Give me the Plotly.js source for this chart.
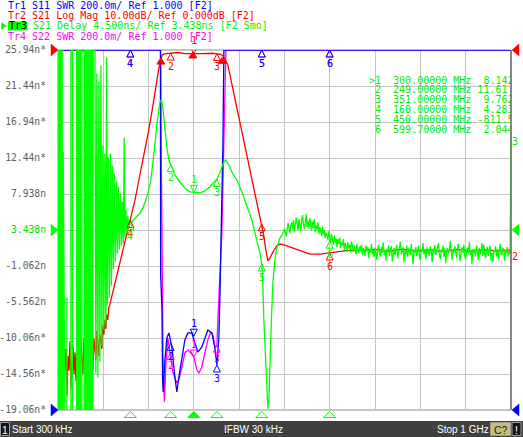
<!DOCTYPE html>
<html><head><meta charset="utf-8">
<script src="https://cdn.plot.ly/plotly-3.0.1.min.js"></script>
<style>html,body{margin:0;padding:0;background:#fff;overflow:hidden}</style>
</head><body><div id="chart" style="width:523px;height:437px"></div>
<script>
// ---------------- DATA ----------------
// Tr1 S11 SWR  [MHz, SWR]
const tr1Pts = [[0.3,3.0],[226.3,3.0],[226.9,1.75],[229.8,1.55],[231.0,1.17],[232.4,1.10],[236.2,1.278],[240.6,1.40],[245,1.428],[251.6,1.35],[258.2,1.183],[262.6,1.10],[267,1.183],[273.7,1.294],[280.3,1.389],[286.9,1.428],[295.7,1.428],[302.4,1.372],[309,1.322],[317.8,1.35],[324.4,1.40],[331,1.444],[339.9,1.428],[346.5,1.344],[350.9,1.25],[355.3,1.40],[357.5,1.611],[359.7,1.9],[362,2.194],[364.2,2.472],[366.4,3.0],[1000,3.0]];
// Tr4 S22 SWR  [MHz, SWR]
const tr4Pts = [[0.3,3.0],[226.9,3.0],[228.6,2.3],[232,1.3],[235,1.044],[238.4,1.25],[242.8,1.40],[247.2,1.317],[253.8,1.211],[262.6,1.15],[267,1.167],[273.7,1.239],[280.3,1.317],[286.9,1.333],[293.5,1.317],[300.2,1.294],[306.8,1.222],[311.2,1.206],[317.8,1.239],[324.4,1.317],[331,1.389],[337.7,1.433],[342.1,1.417],[346.5,1.35],[350.9,1.36],[353.1,1.5],[357.5,1.733],[362,1.989],[366.4,2.5],[369.7,2.789],[370.8,3.0],[1000,3.0]];
// Tr2 S21 Log Mag [MHz, dB]
const tr2Pts = [[0.3,-84],[2.5,-91],[4.7,-82],[6.9,-95],[9.1,-86],[11.3,-80],[13.5,-93],[15.7,-88],[17.9,-83],[20.1,-96],[22.3,-85],[24.5,-89],[26.7,-81],[28.9,-94],[31.1,-87],[33.3,-82],[35.5,-90],[37.7,-84],[39.9,-92],[42.1,-79],[44.3,-88],[46.5,-85],[48.7,-93],[50.9,-81],[53.1,-86],[55.3,-90],[57.5,-80],[59.7,-87],[61.9,-83],[64.1,-91],[66.3,-79],[68.5,-85],[70.7,-88],[72.9,-78],[75.1,-84],[77.3,-89],[79.5,-80],[81.7,-83],[83.9,-86],[86.1,-78],[88.3,-82],[90.5,-85],[92.7,-79],[94.9,-81],[97.1,-83],
[99.3,-76.5],[101.5,-79],[103.7,-75],[106,-77.5],[108,-73.5],[110,-75],[112.6,-71.5],[114.8,-70.8],[117,-69.5],[121.4,-67.2],[126,-64.5],[132.4,-61.7],[136.5,-59.5],[141.2,-56.9],[146.5,-54],[152.3,-51.4],[157.5,-48.8],[163.3,-45.8],[170,-41.8],[176.6,-37.5],[184,-33],[192,-28.3],[200,-22.6],[207.5,-17.2],[213,-12.5],[218.5,-7.8],[223,-5.0],[227.3,-2.8],[230,-1.5],[234,-1.1],[240,-1.0],[249,-0.85],[258,-0.8],[265,-0.7],[280,-1.0],[300,-1.1],[320,-1.0],[340,-0.9],[355,-1.0],[360,-1.2],[364,-1.6],[368.6,-2.5],[375.2,-4.2],[384,-9.4],[393,-14.7],[401.7,-19.7],[410.6,-25],[419.4,-30.3],[428.2,-35.3],[437,-40.6],[445.8,-45.8],[450,-48.3],[454.6,-51.7],[459,-55.6],[463.5,-58.6],[467.9,-57.8],[474.5,-56.1],[483.3,-54.4],[489.9,-53.9],[501,-54.2],[518.7,-55],[534,-55.8],[556,-56.7],[578,-56.7],[600,-56.4],[633,-55.8],[667,-55.6],[700,-55.4],[730,-55.9],[760,-55.3],[790,-55.8],[820,-55.5],[850,-56.0],[880,-55.4],[910,-55.9],[940,-55.5],[970,-55.8],[1000,-55.6]];
// Tr3 S21 Delay [MHz, ns] up to 500 MHz (off-scale values are clipped by the grid)
const tr3Pts = [[0.3,60],[0.7,-60],[3.3,-60],[3.4,60],[5.5,60],[5.6,-60],[7.7,-60],[7.8,60],[9.5,60],[9.6,-60],[11.7,-60],[11.8,13.2],[11.9,-60],[19.9,-60],[20.0,-5],[20.1,-60],[28.7,-60],[28.8,60],[32.0,60],[32.1,-60],[41.3,-60],[41.4,60],[44.1,60],[44.2,-60],[47.0,-60],[47.1,60],[49.7,60],[49.8,-60],[53.0,-60],[53.1,60],[58.0,60],[58.1,-60],[60.7,-60],[60.8,60],[63.6,60],[63.7,-60],[66.2,-60],[66.3,60],[69.1,60],[69.2,-60],[71.7,-60],[71.8,60],[74.6,60],[74.7,-60],[77.2,-60],[77.3,60],[80.1,60],
[81.7,24.5],[83.9,-14.5],[86.1,23.0],[88.3,-15.0],[90.5,22.0],[92.7,-13.0],[94.9,24.0],[97.1,-11.0],[99.3,14.0],[101.5,-9.0],[103.7,13.0],[105.9,-8.5],[107.7,25.0],[109.2,-6.0],[111.4,12.5],[113.7,-5.0],[115.9,13.0],[118.1,-3.5],[120.3,11.5],[122.5,-1.5],[124.7,10.5],[126.9,-0.5],[129.1,9.5],[131.3,0.5],[133.5,8.8],[135.7,1.0],[137.9,8.0],[140.2,1.5],[142.4,7.0],[144.6,1.8],[146.3,15.0],[147.9,2.5],[150.1,6.0],[152.3,3.0],[154.5,5.2],[156.7,3.8],
[160,4.283],[165,4.6],[170,4.94],[176,5.3],[181,5.56],[187,6.1],[192,6.82],[198.6,7.94],[205.3,9.69],[209.7,11.56],[214.1,14.07],[218.5,16.57],[221.8,18.44],[225.1,19.44],[228.9,19.69],[231.7,18.69],[236.2,16.19],[240.6,13.69],[245,12.19],[249,11.61],[258.2,10.32],[269.3,9.44],[280.3,8.69],[291.3,8.19],[300,8.142],[313.4,8.07],[324.4,8.32],[335.4,8.82],[344.3,9.44],[351,9.762],[359.7,10.94],[366.4,11.94],[370.8,12.19],[377.4,11.56],[386.2,10.44],[395,9.69],[406.1,8.19],[417.1,6.57],[428.2,4.69],[439.2,2.1],[445.8,0.6],[450,-0.8115],[452.4,-3.44],[454.6,-7.81],[457.9,-12.19],[461.3,-15.94],[463.5,-18.9],[465.7,-17.81],[467.9,-12.44],[471.2,-7.81],[474.5,-3.19],[478.9,-0.31],[483.3,1.2],[489.9,2.4],[496.6,3.0]];
// Tr3 from 500 MHz to 1 GHz, sweep points every 2 MHz [ns]
const tr3TailStartMHz = 500, tr3TailStepMHz = 2;
const tr3TailVals = [
3.6,3.1,2.6,3.5,4.3,3.8,3.0,3.9,4.4,3.6,
4.7,3.2,3.9,5.0,4.1,3.4,4.8,4.0,3.3,4.6,
5.3,4.2,3.5,4.4,5.4,3.8,4.6,3.6,4.9,4.0,
3.4,4.5,3.7,4.8,3.2,4.0,3.5,4.4,2.9,3.8,
3.3,2.7,3.9,2.9,3.4,2.4,3.1,2.8,2.2,3.3,
2.5,1.8,2.9,2.2,1.6,2.7,1.9,2.4,1.3,2.3,
1.7,2.5,1.2,1.9,1.5,2.3,0.9,1.8,1.4,0.8,
1.9,1.1,1.6,0.6,2.0,1.3,0.7,1.5,1.0,0.4,
1.7,1.1,0.5,1.4,0.8,1.6,0.3,1.2,0.9,0.2,
1.5,0.8,1.3,-0.1,1.1,0.6,1.7,0.4,0.9,0.0,
1.2,0.7,-0.3,1.0,1.6,0.5,0.1,1.3,0.6,1.9,
0.3,0.9,-0.4,1.1,0.6,1.5,0.2,1.0,1.4,-0.5,
0.8,1.2,0.3,0.9,1.6,-0.1,0.6,1.1,2.0,0.4,
0.7,1.3,-0.6,0.9,0.4,1.5,0.1,1.2,0.8,0.3,
1.7,0.5,-0.8,1.0,0.6,1.3,0.2,0.9,1.5,0.0,
-0.3,1.1,0.7,1.8,0.4,0.9,-0.2,1.3,0.5,1.0,
0.2,1.4,0.8,-0.6,1.1,0.5,1.6,0.3,0.9,1.2,
1.8,0.4,-0.2,1.0,0.7,1.5,0.1,1.2,-0.7,0.8,
1.2,0.5,0.9,2.1,0.3,-0.3,1.0,0.6,1.4,0.2,
0.0,1.1,1.7,0.4,-0.5,0.8,1.3,0.6,1.6,0.2,
-0.2,0.9,1.2,0.5,1.9,0.3,0.8,-0.8,1.1,0.6,
1.0,0.1,1.5,0.7,-0.3,1.2,0.4,0.9,1.8,0.2,
1.6,0.5,-0.1,1.0,1.3,0.2,0.8,1.5,-0.4,0.6,
-0.6,0.9,0.7,1.4,0.1,1.1,-0.2,0.8,1.7,0.4,
0.3,1.2,0.9,-0.4,1.0,0.6,1.3,0.1,0.8,0.5,
14.94];

// Markers
const markerNames = ['1','2','3','4','5','6'];
const markerFreqs = [300, 249, 351, 160, 450, 599.7];
const tr3Marker = [8.142, 11.61, 9.762, 4.283, -0.8115, 2.044];
const tr2Marker = [-1.1, -0.85, -1.0, -47.4, -48.3, -56.4];
const tr1Marker = [1.41, 1.37, 1.25, 3.0, 3.0, 3.0];
const tr4Marker = [1.294, 1.32, 1.36, 3.0, 3.0, 3.0];
// bandwidth search markers on Tr2
const bwFreqs = [227.3, 298, 362.7];
const bwVals = [-2.8, -1.1, -2.6];

// axis labels (Tr3 scale)
const delayTickVals = [-19.062,-14.562,-10.062,-5.562,-1.062,3.438,7.938,12.438,16.938,21.438,25.938];
const delayTickText = ['-19.06n*','-14.56n*','-10.06n*','-5.562n','-1.062n','<span style="color:#00dd00">3.438n</span>','7.938n','12.44n*','16.94n*','21.44n*','25.94n*'];
const headerLines = ['Tr1 S11 SWR 200.0m/ Ref 1.000 [F2]','Tr2 S21 Log Mag 10.00dB/ Ref 0.000dB [F2]','S21 Delay 4.500ns/ Ref 3.438ns [F2 Smo]','Tr4 S22 SWR 200.0m/ Ref 1.000 [F2]'];
const statusTexts = ['Start 300 kHz','IFBW 30 kHz','Stop 1 GHz'];

// ---------------- LAYOUT HELPERS ----------------
const W=523,H=437,L=58,R=12,T=50,B=16;
const PW=W-L-R, PH=H-T-B;
const PX = p => (p-L)/PW;
const PY = p => (H-B-p)/PH;
const MB = (H-B-410)/PH;
const MONO = 'DejaVu Sans Mono';
const SANS = 'Liberation Sans';
const C1='#0000ff', C2='#ff0000', C3='#00ee00', C3L='#00ff00', C4='#ff00ff';
const X_RANGE = [0.3, 1000];

const xs = p => p.map(d=>d[0]);
const ys = p => p.map(d=>d[1]);
const tr3X = xs(tr3Pts).concat(tr3TailVals.map((v,i)=>tr3TailStartMHz + i*tr3TailStepMHz));
const tr3Y = ys(tr3Pts).concat(tr3TailVals);

const shapes = [];
const annotations = [];

function txt(px, py, text, color, size, family, anchor){
  annotations.push({xref:'paper', yref:'paper', x:PX(px), y:PY(py), xanchor:anchor||'left', yanchor:'middle',
    text:text, showarrow:false, borderwidth:0, borderpad:0, font:{family:family||MONO, size:size||10, color:color}});
}
function rectPx(x0,y0,x1,y1,fill,line,layer){
  shapes.push({type:'rect', xref:'paper', yref:'paper', x0:PX(x0), x1:PX(x1), y0:PY(y1), y1:PY(y0),
    fillcolor:fill, line:line||{width:0}, layer:layer||'above'});
}
function triPaper(px, py, path, color){
  shapes.push({type:'path', xref:'paper', yref:'paper', xsizemode:'pixel', ysizemode:'pixel',
    xanchor:PX(px), yanchor:PY(py), path:path, fillcolor:color, line:{color:color, width:0.5}, layer:'above'});
}

// plot frame
shapes.push({type:'rect', xref:'paper', yref:'paper', x0:0, x1:1, y0:MB, y1:1, line:{color:'#8a8a8a', width:1}, fillcolor:'rgba(0,0,0,0)', layer:'below'});
shapes.push({type:'line', xref:'paper', yref:'paper', x0:1, x1:1, y0:MB, y1:1, line:{color:'#707070', width:1.5}, layer:'above'});

// reference position triangles (left & right)
triPaper(58, 50, 'M0,0L-7,6L-7,-6Z', C2);
triPaper(58, 230, 'M0,0L-7,6L-7,-6Z', C3L);
triPaper(58, 410, 'M0,0L-7,6L-7,-6Z', C1);
triPaper(511, 50, 'M1,0L8,6L8,-6Z', C2);
triPaper(511, 230, 'M1,0L8,6L8,-6Z', C3L);
triPaper(511, 410, 'M1,0L8,6L8,-6Z', C1);

// header
txt(8, 6, headerLines[0], C1);
txt(8, 16, headerLines[1], C2);
rectPx(8, 21.5, 27.5, 30.5, C3L);
triPaper(1.5, 26, 'M0,3.5L0,-3.5L5,0Z', C3L);
txt(8.5, 26, 'Tr3', '#000000');
txt(32.5, 26, headerLines[2], C3);
txt(8, 36, headerLines[3], C4);

// markers
function addMarkers(vals, yref, color){
  markerFreqs.forEach((f,i)=>{
    const active = i===0;
    shapes.push({type:'path', xref:'x', yref:yref, xsizemode:'pixel', ysizemode:'pixel', xanchor:f, yanchor:vals[i],
      path: active ? 'M0,0L-3.5,7L3.5,7Z' : 'M0,0L-3.5,-7L3.5,-7Z',
      line:{color:color, width:1}, fillcolor:'rgba(0,0,0,0)', layer:'above'});
    annotations.push({xref:'x', yref:yref, x:f, y:vals[i], text:markerNames[i], showarrow:false,
      yshift: active ? 13 : -13, borderwidth:0, borderpad:0, font:{family:MONO, size:10, color:color}});
  });
}
addMarkers(tr4Marker, 'y2', C4);
addMarkers(tr1Marker, 'y2', C1);
addMarkers(tr2Marker, 'y3', C2);
bwFreqs.forEach((f,i)=>{
  shapes.push({type:'path', xref:'x', yref:'y3', xsizemode:'pixel', ysizemode:'pixel', xanchor:f, yanchor:bwVals[i],
    path:'M0,2L-4,-4L4,-4Z', line:{color:C2, width:1}, fillcolor:C2, layer:'above'});
});
addMarkers(tr3Marker, 'y4', C3L);

// stimulus markers strip below grid
markerFreqs.forEach((f,i)=>{
  shapes.push({type:'path', xref:'x', yref:'paper', xsizemode:'pixel', ysizemode:'pixel', xanchor:f, yanchor:PY(415),
    path:'M-6,-2.5L6,-2.5L0,3.5Z', line:{color:C3L, width:1}, fillcolor: i===0 ? C3L : 'rgba(0,0,0,0)', layer:'above'});
});

// trace end labels
annotations.push({xref:'x', yref:'y3', x:1000, y:tr2Pts[tr2Pts.length-1][1], xanchor:'left', xshift:1, yshift:-6, text:'2', showarrow:false, borderwidth:0, borderpad:0, font:{family:MONO,size:10,color:C2}});
annotations.push({xref:'x', yref:'y4', x:1000, y:tr3Y[tr3Y.length-1], xanchor:'left', xshift:1, yshift:-4, text:'3', showarrow:false, borderwidth:0, borderpad:0, font:{family:MONO,size:10,color:C3}});

// status bar
rectPx(0, 421, 523, 437, '#404040');
rectPx(0.5, 422.5, 9.5, 435.5, '#161616', {color:'#9a9a9a', width:1});
txt(5, 429.5, '1', '#ffffff', 10.5, SANS, 'center');
txt(12, 429.5, statusTexts[0], '#ffffff', 10, SANS);
txt(224, 429.5, statusTexts[1], '#ffffff', 10, SANS);
txt(437, 429.5, statusTexts[2], '#ffffff', 10, SANS);
rectPx(490.5, 422.5, 510.5, 435.5, '#c8c070', {color:'#9a9a9a', width:1});
txt(500.5, 429.5, 'C?', '#202020', 10.5, SANS, 'center');
rectPx(512, 422.5, 521, 435.5, '#161616', {color:'#9a9a9a', width:1});
txt(516.5, 429.5, '!', '#ffffff', 10.5, SANS, 'center');

// marker table (clipped by grid)
const tableRowPx = [81, 90.8, 100.6, 110.4, 120.2, 130];
const tableText = markerFreqs.map((f,i)=>{
  const v = tr3Marker[i];
  const val = Math.abs(v) < 1 ? (v*1000).toPrecision(4)+' ps' : v.toPrecision(4)+' ns';
  const pad = (v >= 0 && v < 10) ? '  ' : ' ';
  return ((i===0?'>':' ') + markerNames[i] + '  ' + f.toFixed(5) + ' MHz' + pad + val).replace(/ /g,'\u00a0');
});
const tableX = X_RANGE[0] + PX(369)*(X_RANGE[1]-X_RANGE[0]);

const traces = [
  {x:[null], y:[null], xaxis:'x', yaxis:'y', mode:'lines', hoverinfo:'skip'},
  {x:xs(tr4Pts), y:ys(tr4Pts), xaxis:'x', yaxis:'y2', mode:'lines', line:{color:C4, width:1.3}, hoverinfo:'skip'},
  {x:xs(tr1Pts), y:ys(tr1Pts), xaxis:'x', yaxis:'y2', mode:'lines', line:{color:C1, width:1.3}, hoverinfo:'skip'},
  {x:xs(tr2Pts), y:ys(tr2Pts), xaxis:'x', yaxis:'y3', mode:'lines', line:{color:C2, width:1.3}, hoverinfo:'skip'},
  {x:tr3X, y:tr3Y, xaxis:'x', yaxis:'y4', mode:'lines', line:{color:C3L, width:1.3}, hoverinfo:'skip'},
  {x:tableRowPx.map(()=>tableX), y:tableRowPx.map(p=>(410-p)/360), xaxis:'x', yaxis:'y5', mode:'text',
   text:tableText, textposition:'middle right', cliponaxis:true, textfont:{family:MONO, size:10, color:C3}, hoverinfo:'skip'}
];

const gridC = '#c4c4c4';
const layout = {
  width:W, height:H, margin:{l:L, r:R, t:T, b:B, pad:0},
  paper_bgcolor:'#ffffff', plot_bgcolor:'rgba(0,0,0,0)', showlegend:false, hovermode:false,
  xaxis:{range:X_RANGE, showticklabels:false, ticks:'', showgrid:true, gridcolor:gridC, gridwidth:1,
         tick0:0.3, dtick:99.97, zeroline:false, showline:false, fixedrange:true},
  yaxis:{domain:[MB,1], range:[-19.062,25.938], tickmode:'array', tickvals:delayTickVals, ticktext:delayTickText,
         showgrid:true, gridcolor:gridC, gridwidth:1, zeroline:false, showline:false, ticks:'',
         showticklabels:true, tickfont:{family:MONO, size:9.7, color:'#606060'}, ticklabelstandoff:11, fixedrange:true},
  yaxis2:{overlaying:'y', range:[1,3], showgrid:false, showticklabels:false, zeroline:false, ticks:'', fixedrange:true},
  yaxis3:{overlaying:'y', range:[-100,0], showgrid:false, showticklabels:false, zeroline:false, ticks:'', fixedrange:true},
  yaxis4:{overlaying:'y', range:[-19.062,25.938], showgrid:false, showticklabels:false, zeroline:false, ticks:'', fixedrange:true},
  yaxis5:{overlaying:'y', range:[0,1], showgrid:false, showticklabels:false, zeroline:false, ticks:'', fixedrange:true},
  shapes:shapes, annotations:annotations
};
Plotly.newPlot('chart', traces, layout, {staticPlot:true, displayModeBar:false});
</script></body></html>
